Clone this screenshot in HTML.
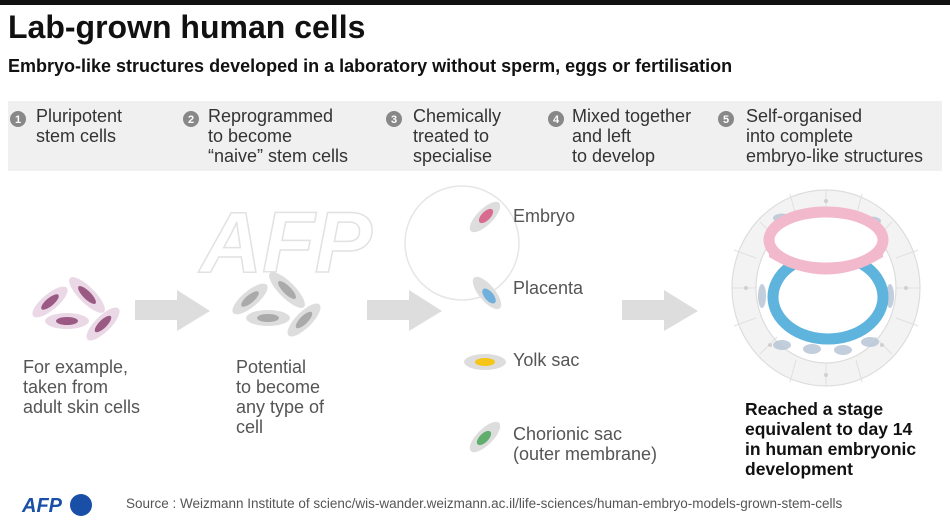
<!DOCTYPE html>
<html><head><meta charset="utf-8"><style>
body{margin:0;width:950px;height:525px;background:#fff;font-family:"Liberation Sans",sans-serif;position:relative;overflow:hidden;color:#333}
.a{position:absolute;white-space:nowrap}
.t{font-size:18px;line-height:20px;color:#333}
</style></head><body>
<div class="a" style="left:0;top:0;width:950px;height:5px;background:#111"></div>
<div class="a" style="left:8px;top:9px;font-size:32px;font-weight:bold;color:#111">Lab-grown human cells</div>
<div class="a" style="left:8px;top:56px;font-size:18px;font-weight:bold;color:#111">Embryo-like structures developed in a laboratory without sperm, eggs or fertilisation</div>
<div class="a" style="left:8px;top:101px;width:934px;height:70px;background:#f0f0f0"></div>
<svg class="a" style="left:0;top:0" width="950" height="525">
<g fill="#888"><circle cx="18" cy="119" r="8"/><circle cx="191" cy="119" r="8"/><circle cx="394" cy="119" r="8"/><circle cx="556" cy="119" r="8"/><circle cx="726" cy="119" r="8"/></g>
<g fill="#fff" font-size="11" font-weight="bold" text-anchor="middle" font-family="Liberation Sans"><text x="18" y="123">1</text><text x="191" y="123">2</text><text x="394" y="123">3</text><text x="556" y="123">4</text><text x="726" y="123">5</text></g>
<g fill="none" stroke="#e6e6e6" stroke-width="1.5"><text x="200" y="272" font-size="86" font-weight="bold" font-style="italic" fill="#fff" stroke="#e2e2e2">AFP</text><circle cx="462" cy="243" r="57"/></g>
<g fill="#ddd"><path d="M135 300h42v-10l33 21-33 20v-11h-42z"/><path d="M367 300h42v-10l33 21-33 20v-11h-42z"/><path d="M622 300h42v-10l34 21-34 20v-11h-42z"/></g>
<g><ellipse cx="50" cy="302" rx="22" ry="8" transform="rotate(-40 50 302)" fill="#ead8e6"/><ellipse cx="50" cy="302" rx="11" ry="4" transform="rotate(-40 50 302)" fill="#9b5a84"/>
<ellipse cx="87" cy="295" rx="24" ry="8" transform="rotate(45 87 295)" fill="#ead8e6"/><ellipse cx="87" cy="295" rx="12" ry="4" transform="rotate(45 87 295)" fill="#9b5a84"/>
<ellipse cx="67" cy="321" rx="22" ry="8" fill="#ead8e6"/><ellipse cx="67" cy="321" rx="11" ry="4" fill="#9b5a84"/>
<ellipse cx="103" cy="324" rx="22" ry="8" transform="rotate(-45 103 324)" fill="#ead8e6"/><ellipse cx="103" cy="324" rx="11" ry="4" transform="rotate(-45 103 324)" fill="#9b5a84"/></g>
<g><ellipse cx="250" cy="299" rx="22" ry="8" transform="rotate(-40 250 299)" fill="#ddd"/><ellipse cx="250" cy="299" rx="11" ry="4" transform="rotate(-40 250 299)" fill="#aaa"/>
<ellipse cx="287" cy="290" rx="24" ry="8" transform="rotate(45 287 290)" fill="#ddd"/><ellipse cx="287" cy="290" rx="12" ry="4" transform="rotate(45 287 290)" fill="#aaa"/>
<ellipse cx="268" cy="318" rx="22" ry="8" fill="#ddd"/><ellipse cx="268" cy="318" rx="11" ry="4" fill="#aaa"/>
<ellipse cx="304" cy="320" rx="22" ry="8" transform="rotate(-45 304 320)" fill="#ddd"/><ellipse cx="304" cy="320" rx="11" ry="4" transform="rotate(-45 304 320)" fill="#aaa"/></g>
<ellipse cx="485" cy="217" rx="20" ry="8" transform="rotate(-45 485 217)" fill="#ddd"/><ellipse cx="486" cy="216" rx="9" ry="4.5" transform="rotate(-45 486 216)" fill="#d96b91"/>
<ellipse cx="487" cy="293" rx="20" ry="8" transform="rotate(50 487 293)" fill="#ddd"/><ellipse cx="489" cy="296" rx="9" ry="4.5" transform="rotate(50 489 296)" fill="#6fb0dc"/>
<ellipse cx="485" cy="362" rx="21" ry="8" fill="#ddd"/><ellipse cx="485" cy="362" rx="10" ry="4" fill="#f5c518"/>
<ellipse cx="485" cy="437" rx="20" ry="8" transform="rotate(-45 485 437)" fill="#ddd"/><ellipse cx="484" cy="438" rx="9" ry="4.5" transform="rotate(-45 484 438)" fill="#5fae6e"/>
<g fill="#fafafa" stroke="#ddd" stroke-width="1.2">
<ellipse cx="826" cy="288" rx="94" ry="98" fill="#f3f3f3"/>
<ellipse cx="826" cy="288" rx="70" ry="75" fill="#fff"/>
</g>
<g stroke="#e0e0e0" stroke-width="1">
<path d="M826 190V213M826 363V386M732 288H756M896 288H920M760 222l17 17M892 222l-17 17M760 354l17-17M892 354l-17-17M790 194l6 22M862 194l-6 22M790 382l6-22M862 382l-6-22M734 250l22 8M918 250l-22 8M734 326l22-8M918 326l-22-8"/>
</g>
<g fill="#d0d0d0"><circle cx="746" cy="288" r="2"/><circle cx="906" cy="288" r="2"/><circle cx="826" cy="201" r="2"/><circle cx="826" cy="375" r="2"/><circle cx="770" cy="232" r="2"/><circle cx="882" cy="232" r="2"/><circle cx="770" cy="345" r="2"/><circle cx="882" cy="345" r="2"/></g>
<g fill="#b8c6d6" opacity=".85"><ellipse cx="782" cy="218" rx="9" ry="4.5"/><ellipse cx="812" cy="213" rx="9" ry="4.5"/><ellipse cx="845" cy="214" rx="9" ry="4.5"/><ellipse cx="872" cy="221" rx="9" ry="4.5"/><ellipse cx="782" cy="345" rx="9" ry="5"/><ellipse cx="812" cy="349" rx="9" ry="5"/><ellipse cx="843" cy="350" rx="9" ry="5"/><ellipse cx="870" cy="342" rx="9" ry="5"/><ellipse cx="762" cy="296" rx="4" ry="12"/><ellipse cx="890" cy="296" rx="4" ry="12"/></g>
<ellipse cx="828" cy="297" rx="55" ry="42" fill="none" stroke="#5fb4de" stroke-width="11"/>
<ellipse cx="826" cy="240" rx="57" ry="28" fill="#fff" stroke="#f2b8cc" stroke-width="11"/>
<path d="M769 246Q826 282 883 246L883 257Q826 292 769 257Z" fill="#f2b8cc"/>
<text x="22" y="512" font-size="20" font-weight="bold" font-style="italic" fill="#1a4fa8">AFP</text>
<circle cx="81" cy="505" r="11" fill="#1a4fa8"/>
</svg>
<div class="a t" style="left:36px;top:106px">Pluripotent<br>stem cells</div>
<div class="a t" style="left:208px;top:106px">Reprogrammed<br>to become<br>“naive” stem cells</div>
<div class="a t" style="left:413px;top:106px">Chemically<br>treated to<br>specialise</div>
<div class="a t" style="left:572px;top:106px">Mixed together<br>and left<br>to develop</div>
<div class="a t" style="left:746px;top:106px">Self-organised<br>into complete<br>embryo-like structures</div>
<div class="a t" style="left:23px;top:357px;color:#555">For example,<br>taken from<br>adult skin cells</div>
<div class="a t" style="left:236px;top:357px;color:#555">Potential<br>to become<br>any type of<br>cell</div>
<div class="a t" style="left:513px;top:206px;color:#555">Embryo</div>
<div class="a t" style="left:513px;top:278px;color:#555">Placenta</div>
<div class="a t" style="left:513px;top:350px;color:#555">Yolk sac</div>
<div class="a t" style="left:513px;top:424px;color:#555">Chorionic sac<br>(outer membrane)</div>
<div class="a t" style="left:745px;top:399px;font-size:17.5px;font-weight:bold;color:#111">Reached a stage<br>equivalent to day 14<br>in human embryonic<br>development</div>
<div class="a" style="left:126px;top:496px;font-size:13.5px;color:#555">Source : Weizmann Institute of scienc/wis-wander.weizmann.ac.il/life-sciences/human-embryo-models-grown-stem-cells</div>
</body></html>
